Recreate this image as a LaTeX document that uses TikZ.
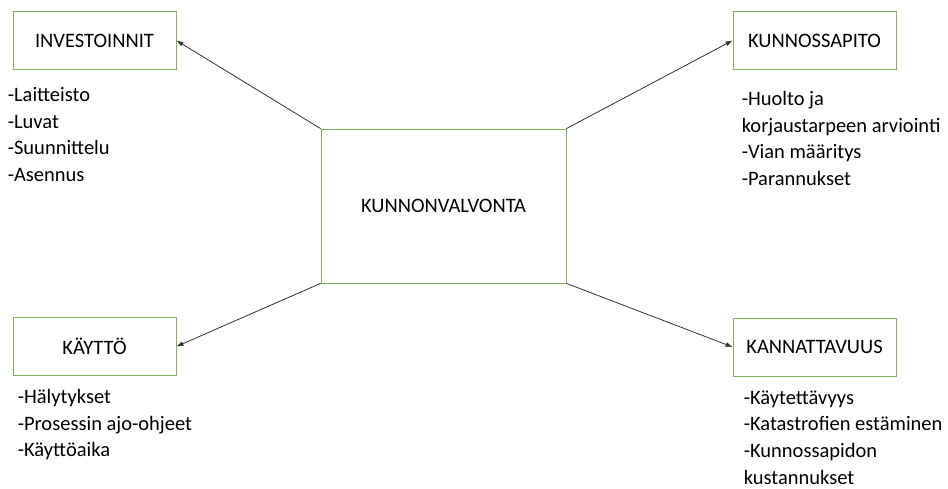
\documentclass[tikz,border=0pt]{standalone}
\usepackage{fontspec}
\setmainfont{Carlito}
\usepackage{xcolor}
\usepackage{tikz}
\usetikzlibrary{positioning,arrows.meta}
\definecolor{boxgreen}{RGB}{128,176,92}
\definecolor{arrowgray}{RGB}{50,50,50}

\begin{document}
\begin{tikzpicture}[
    x=1pt,
    y=-1pt,
    font=\fontsize{20.5}{26.8}\selectfont,
    box/.style={
        draw=boxgreen,
        line width=0.8pt,
        align=center,
        minimum width=163pt,
        minimum height=58pt
    },
    list/.style={
        align=left,
        inner sep=0pt
    },
    arrow/.style={
        -{Latex[length=7pt,width=5pt]},
        draw=arrowgray,
        line width=0.8pt
    }
]
\useasboundingbox (0,0) rectangle (948,489);
\node[box, minimum width=245pt, minimum height=154pt] (KV) at (443.5,206)
{KUNNONVALVONTA};
\node[box] (INV) at (94.5,40.5)
{INVESTOINNIT};
\node[box] (KUN) at (814.5,40.5)
{KUNNOSSAPITO};
\node[box] (KAY) at (94.5,346.5)
{KÄYTTÖ};
\node[box] (KAN) at (814.5,347)
{KANNATTAVUUS};
\node[list, below right=17pt and -5pt of INV.south west] (INVlist)
{-Laitteisto\\
-Luvat\\
-Suunnittelu\\
-Asennus};
\node[list, below right=21pt and 9pt of KUN.south west] (KUNlist)
{-Huolto ja\\
korjaustarpeen arviointi\\
-Vian määritys\\
-Parannukset};
\node[list, below right=13pt and 5pt of KAY.south west] (KAYlist)
{-Hälytykset\\
-Prosessin ajo-ohjeet\\
-Käyttöaika};
\node[list, below right=14pt and 11pt of KAN.south west] (KANlist)
{-Käytettävyys\\
-Katastrofien estäminen\\
-Kunnossapidon\\
kustannukset};
\draw[arrow] (KV.north west) -- (INV.east);
\draw[arrow] (KV.north east) -- (KUN.west);
\draw[arrow] (KV.south west) -- (KAY.east);
\draw[arrow] (KV.south east) -- (KAN.west);
\end{tikzpicture}
\end{document}
